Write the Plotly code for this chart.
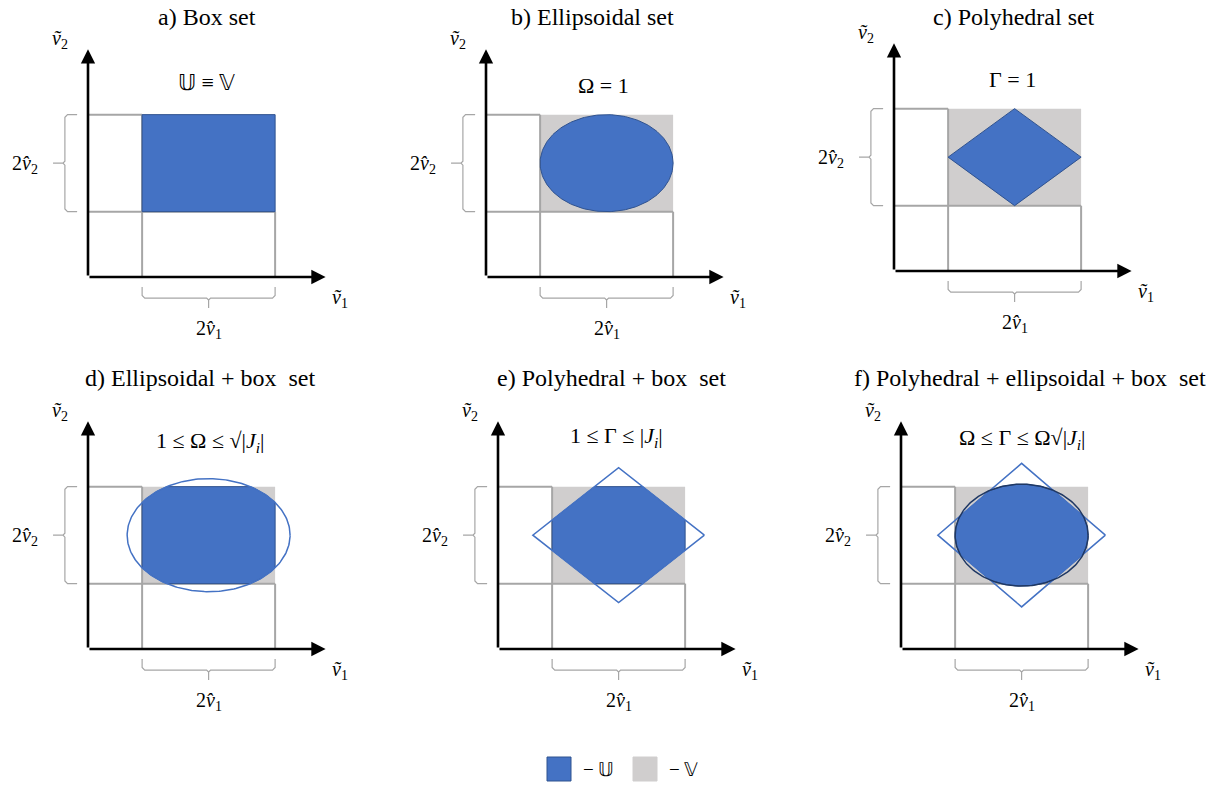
import numpy as np
import plotly.graph_objects as go

W, H = 1232, 787
PX = 33.0  # pixels per data unit

# ---------------- data ----------------
titles = ["a) Box set", "b) Ellipsoidal set", "c) Polyhedral set",
          "d) Ellipsoidal + box  set", "e) Polyhedral + box  set",
          "f) Polyhedral + ellipsoidal + box  set"]
J = "|<i>J<sub>i</sub></i>|"
conditions = ["𝕌 ≡ 𝕍", "Ω = 1", "Γ = 1",
              "1 ≤ Ω ≤ √" + J, "1 ≤ Γ ≤ " + J, "Ω ≤ Γ ≤ Ω√" + J]
origins_px = [(88, 277), (486, 277), (894, 271), (88, 649), (498, 649), (901, 649)]
title_x = [3.6, 3.24, 3.64, 3.4, 3.43, 3.9]
title_y = [7.88, 7.88, 7.7, 8.2, 8.2, 8.2]
cond_x = [3.6, 3.55, 3.6, 3.7, 3.6, 3.67]
cond_y = [5.9, 5.8, 5.8, 6.27, 6.42, 6.36]

box_center = (3.655, 3.45)
box_half = (2.015, 1.47)
ellipse_scale = [None, (1.0, 1.0), None, (1.225, 1.165), None, (1.0, 1.05)]
diamond_scale = [None, None, (1.0, 1.0), None, (1.29, 1.39), (1.26, 1.48)]
fill_kind = ["box", "ellipse", "diamond", "ellipse&box", "box&diamond", "ellipse&diamond"]
axis_len = (7.2, 6.9)

legend_labels = ["− 𝕌", "− 𝕍"]

BLUE = "#4472C4"
BLUE_EDGE = "#2F528F"
NAVY = "#1F3864"
GREY_FILL = "#D0CECE"
GREY_LINE = "#A6A6A6"
FONT = "Liberation Serif"
TITLE_SIZE = 24
COND_SIZE = 22
LABEL_SIZE = 20


# ---------------- geometry helpers ----------------
def box_poly():
    cx, cy = box_center
    hx, hy = box_half
    return [(cx - hx, cy - hy), (cx + hx, cy - hy), (cx + hx, cy + hy), (cx - hx, cy + hy)]


def ellipse_poly(s, n=240):
    cx, cy = box_center
    hx, hy = box_half
    t = np.linspace(0, 2 * np.pi, n, endpoint=False)
    return list(zip(cx + s[0] * hx * np.cos(t), cy + s[1] * hy * np.sin(t)))


def diamond_poly(s):
    cx, cy = box_center
    hx, hy = box_half
    return [(cx + s[0] * hx, cy), (cx, cy + s[1] * hy), (cx - s[0] * hx, cy), (cx, cy - s[1] * hy)]


def clip(subject, clipper):
    def inside(p, a, b):
        return (b[0] - a[0]) * (p[1] - a[1]) - (b[1] - a[1]) * (p[0] - a[0]) >= 0

    def inter(p, q, a, b):
        x1, y1 = p; x2, y2 = q; x3, y3 = a; x4, y4 = b
        d = (x1 - x2) * (y3 - y4) - (y1 - y2) * (x3 - x4)
        px = ((x1 * y2 - y1 * x2) * (x3 - x4) - (x1 - x2) * (x3 * y4 - y3 * x4)) / d
        py = ((x1 * y2 - y1 * x2) * (y3 - y4) - (y1 - y2) * (x3 * y4 - y3 * x4)) / d
        return (px, py)

    out = subject
    for i in range(len(clipper)):
        a, b = clipper[i], clipper[(i + 1) % len(clipper)]
        inp = out
        out = []
        if not inp:
            break
        s = inp[-1]
        for e in inp:
            if inside(e, a, b):
                if not inside(s, a, b):
                    out.append(inter(s, e, a, b))
                out.append(e)
            elif inside(s, a, b):
                out.append(inter(s, e, a, b))
            s = e
    return out


def closed(poly):
    xs = [p[0] for p in poly] + [poly[0][0]]
    ys = [p[1] for p in poly] + [poly[0][1]]
    return xs, ys


# ---------------- figure ----------------
fig = go.Figure()
layout = dict(width=W, height=H, margin=dict(l=0, r=0, t=0, b=0),
              paper_bgcolor="white", plot_bgcolor="rgba(0,0,0,0)",
              showlegend=False)
annotations = []

XR = (-2.6, 8.2)
YR = (-2.3, 8.2)

for k in range(6):
    ox, oy = origins_px[k]
    xa = "x" if k == 0 else f"x{k+1}"
    ya = "y" if k == 0 else f"y{k+1}"
    axname_x = "xaxis" if k == 0 else f"xaxis{k+1}"
    axname_y = "yaxis" if k == 0 else f"yaxis{k+1}"
    layout[axname_x] = dict(domain=[(ox + XR[0] * PX) / W, (ox + XR[1] * PX) / W],
                            range=list(XR), visible=False, fixedrange=True, anchor=ya)
    layout[axname_y] = dict(domain=[1 - (oy - YR[0] * PX) / H, 1 - (oy - YR[1] * PX) / H],
                            range=list(YR), visible=False, fixedrange=True, anchor=xa)

    cx, cy = box_center
    hx, hy = box_half
    xl, xr = cx - hx, cx + hx
    yb, yt = cy - hy, cy + hy

    # grey uncertainty box V
    if k > 0:
        bx, by = closed(box_poly())
        fig.add_trace(go.Scatter(x=bx, y=by, xaxis=xa, yaxis=ya, mode="lines",
                                 fill="toself", fillcolor=GREY_FILL,
                                 line=dict(width=0, color=GREY_FILL), hoverinfo="skip"))
    # grey guide lines
    for gx, gy in [([0, xl], [yt, yt]), ([0, xr], [yb, yb]),
                   ([xl, xl], [0, yt]), ([xr, xr], [0, yb])]:
        fig.add_trace(go.Scatter(x=gx, y=gy, xaxis=xa, yaxis=ya, mode="lines",
                                 line=dict(color=GREY_LINE, width=2), hoverinfo="skip"))

    # blue set U
    kind = fill_kind[k]
    if kind == "box":
        poly = box_poly()
    elif kind == "ellipse":
        poly = ellipse_poly(ellipse_scale[k])
    elif kind == "diamond":
        poly = diamond_poly(diamond_scale[k])
    elif kind == "ellipse&box":
        poly = clip(ellipse_poly(ellipse_scale[k]), box_poly())
    elif kind == "box&diamond":
        poly = clip(box_poly(), diamond_poly(diamond_scale[k]))
    else:
        poly = clip(ellipse_poly(ellipse_scale[k]), diamond_poly(diamond_scale[k]))
    px_, py_ = closed(poly)
    fig.add_trace(go.Scatter(x=px_, y=py_, xaxis=xa, yaxis=ya, mode="lines",
                             fill="toself", fillcolor=BLUE,
                             line=dict(width=1, color=BLUE_EDGE), hoverinfo="skip"))

    # outlines
    if k == 3:
        ex, ey = closed(ellipse_poly(ellipse_scale[k]))
        fig.add_trace(go.Scatter(x=ex, y=ey, xaxis=xa, yaxis=ya, mode="lines",
                                 line=dict(width=1.5, color=BLUE), hoverinfo="skip"))
    if k in (4, 5):
        dx, dy = closed(diamond_poly(diamond_scale[k]))
        fig.add_trace(go.Scatter(x=dx, y=dy, xaxis=xa, yaxis=ya, mode="lines",
                                 line=dict(width=1.5, color=BLUE), hoverinfo="skip"))
    if k == 5:
        ex, ey = closed(ellipse_poly(ellipse_scale[k]))
        fig.add_trace(go.Scatter(x=ex, y=ey, xaxis=xa, yaxis=ya, mode="lines",
                                 line=dict(width=1.5, color=NAVY), hoverinfo="skip"))

    # braces
    bxs = [xl, xl, xl + 0.08, cx - 0.06, cx, cx, cx, cx + 0.06, xr - 0.08, xr, xr]
    bys = [-0.30, -0.56, -0.64, -0.64, -0.70, -0.94, -0.70, -0.64, -0.64, -0.56, -0.30]
    fig.add_trace(go.Scatter(x=bxs, y=bys, xaxis=xa, yaxis=ya, mode="lines",
                             line=dict(width=1.2, color=GREY_LINE), hoverinfo="skip"))
    vys = [yt, yt, yt - 0.08, cy + 0.06, cy, cy, cy, cy - 0.06, yb + 0.08, yb, yb]
    vxs = [-0.33, -0.62, -0.70, -0.70, -0.76, -1.06, -0.76, -0.70, -0.70, -0.62, -0.33]
    fig.add_trace(go.Scatter(x=vxs, y=vys, xaxis=xa, yaxis=ya, mode="lines",
                             line=dict(width=1.2, color=GREY_LINE), hoverinfo="skip"))

    # axes with arrows
    for tx, ty in [(axis_len[0], 0), (0, axis_len[1])]:
        annotations.append(dict(x=tx, y=ty, ax=0, ay=0, xref=xa, yref=ya,
                                axref=xa, ayref=ya, showarrow=True, arrowhead=2,
                                arrowsize=1.1, arrowwidth=2.6, arrowcolor="black",
                                standoff=0, startstandoff=0, text=""))

    # texts
    def txt(x, y, s, size, **kw):
        d = dict(x=x, y=y, xref=xa, yref=ya, text=s, showarrow=False,
                 font=dict(family=FONT, size=size, color="black"))
        d.update(kw)
        annotations.append(d)

    txt(title_x[k], title_y[k], titles[k], TITLE_SIZE)
    txt(cond_x[k], cond_y[k], conditions[k], COND_SIZE)
    txt(-0.85, 7.2, "<i>ṽ</i><sub>2</sub>", LABEL_SIZE)
    txt(7.64, -0.64, "<i>ṽ</i><sub>1</sub>", LABEL_SIZE)
    txt(cx, -1.6, "2<i>v̂</i><sub>1</sub>", LABEL_SIZE)
    txt(-1.45, cy - 0.05, "2<i>v̂</i><sub>2</sub>", LABEL_SIZE, xanchor="right")

# legend axis
layout["xaxis7"] = dict(domain=[516 / W, 688 / W], range=[-0.5, 1.5], visible=False,
                        fixedrange=True, anchor="y7")
layout["yaxis7"] = dict(domain=[1 - 786 / H, 1 - 752 / H], range=[-1, 1], visible=False,
                        fixedrange=True, anchor="x7")
fig.add_trace(go.Scatter(x=[0, 1], y=[0, 0], xaxis="x7", yaxis="y7", mode="markers",
                         marker=dict(symbol="square", size=24, color=[BLUE, GREY_FILL],
                                     line=dict(width=1, color=[BLUE_EDGE, GREY_FILL])),
                         hoverinfo="skip", cliponaxis=False))
for i, lab in enumerate(legend_labels):
    annotations.append(dict(x=i, y=0, xref="x7", yref="y7", text=lab, showarrow=False,
                            xanchor="left", xshift=22,
                            font=dict(family=FONT, size=19, color="black")))

layout["annotations"] = annotations
fig.update_layout(**layout)
fig.write_html("out.html", post_script="document.body.style.margin='0';",
               config={"displayModeBar": False, "staticPlot": True})
